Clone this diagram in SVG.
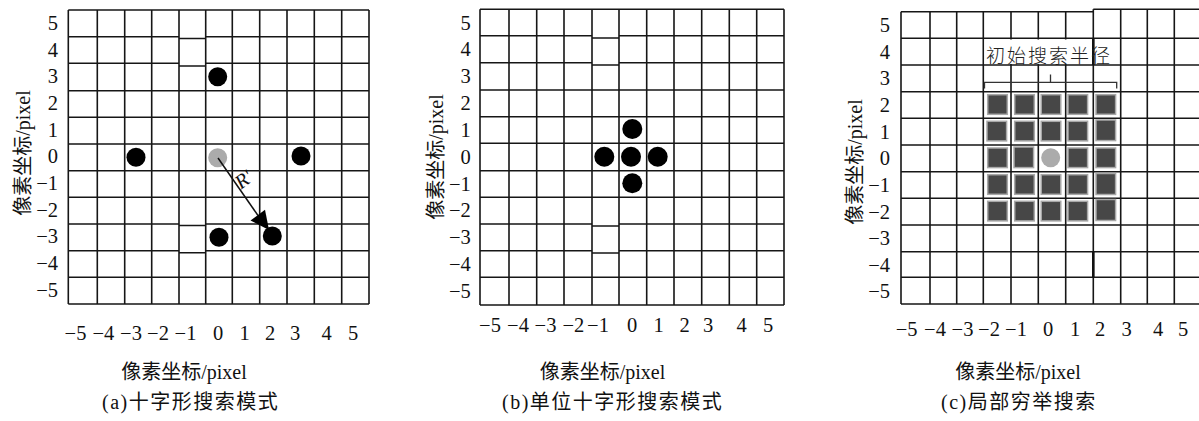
<svg xmlns="http://www.w3.org/2000/svg" width="1199" height="421" viewBox="0 0 1199 421">
<defs>
<style>
.g{fill:none;stroke:#161616;stroke-width:1.6}
.t{font-family:'Liberation Serif','Times New Roman',serif;font-size:20.5px;fill:#111}
.tm{text-anchor:middle}
.te{text-anchor:end}
.ax{font-family:'Liberation Serif','Noto Sans CJK SC',serif;font-size:20px;fill:#111;text-anchor:middle}
.cap{font-family:'Liberation Serif','Noto Sans CJK SC',serif;font-size:20px;fill:#111;letter-spacing:1.5px}
.blk{fill:#000}
.gry{fill:#ababab}
.sq{fill:#474747;stroke:#a8a8a8;stroke-width:1.5}
</style>
</defs>
<rect width="1199" height="421" fill="#fff"/>

<!-- Panel (a) -->
<g id="panel-a">
<path class="g" d="M68.3,10V304M97.3,10V304M124.7,10V304M151.7,10V304M179,10V304M205.7,10V304M232.3,10V304M259.7,10V304M287,10V304M314.3,10V304M341.7,10V304M369,10V304
M68.3,10H369M68.3,36.7H179M179,38.5H205.7M205.7,36.7H369M68.3,63.3H179M179,66H205.7M205.7,63.3H369M68.3,90.7H369M68.3,117.3H369M68.3,144H369M68.3,170.7H369M68.3,197.3H369
M68.3,224H179M179,225.5H205.7M205.7,224H369M68.3,250.7H179M179,252.7H205.7M205.7,250.7H369M68.3,277.3H369M68.3,304H369"/>
<g class="t te" font-family="Liberation Serif, serif">
<text x="58" y="30">5</text><text x="58" y="56.7">4</text><text x="58" y="83.3">3</text><text x="58" y="110">2</text><text x="58" y="136.7">1</text><text x="58" y="163.3">0</text>
<text x="58" y="190">−1</text><text x="58" y="216.7">−2</text><text x="58" y="243.3">−3</text><text x="58" y="270">−4</text><text x="58" y="296.7">−5</text>
</g>
<g class="t tm" font-family="Liberation Serif, serif">
<text x="75.5" y="340">−5</text><text x="103.3" y="340">−4</text><text x="131" y="340">−3</text><text x="158" y="340">−2</text><text x="185.5" y="340">−1</text><text x="218" y="340">0</text><text x="244.5" y="340">1</text><text x="270" y="340">2</text><text x="295" y="340">3</text><text x="326.7" y="340">4</text><text x="353" y="340">5</text>
</g>
<text class="ax" transform="translate(29.5,153) rotate(-90)">像素坐标/pixel</text>
<text class="ax" x="184" y="379">像素坐标/pixel</text>
<text class="cap" x="102" y="409">(a)十字形搜索模式</text>
</g>
<g id="nodes-a">
<circle class="blk" cx="217.7" cy="76.7" r="9.5"/>
<circle class="blk" cx="136" cy="157.3" r="9.5"/>
<circle class="blk" cx="301" cy="156" r="9.5"/>
<circle class="gry" cx="217.7" cy="157.7" r="9.5"/>
<circle class="blk" cx="219" cy="237.3" r="9.5"/>
<circle class="blk" cx="272.3" cy="236" r="9.5"/>
</g>
<g id="connectors">
<line x1="218" y1="158" x2="258" y2="215.5" stroke="#111" stroke-width="1.5"/>
<polygon points="250.5,220.5 265,209.7 269,230" fill="#000"/>
<text x="244" y="186" transform="rotate(-37 244 180)" font-family="Liberation Serif, serif" font-size="20" font-style="italic" fill="#111" text-anchor="middle">R'</text>
</g>

<!-- Panel (b) -->
<g id="panel-b">
<path class="g" d="M480,9.3V305M509,9.3V305M536.7,9.3V305M564,9.3V305M592,9.3V305M619,9.3V305M646.7,9.3V305M674,9.3V305M701.7,9.3V305M729.3,9.3V305M756.7,9.3V305M784,9.3V305
M480,9.3H784M480,35.7H592M592,38H619M619,35.7H784M480,62.7H592M592,65H619M619,62.7H784M480,90H784M480,116.7H784M480,143.3H784M480,170.7H784M480,197.3H784
M480,224H592M592,226H619M619,224H784M480,250.7H592M592,253H619M619,250.7H784M480,277.3H784M480,305H784"/>
<g class="t te" font-family="Liberation Serif, serif">
<text x="470.7" y="29.5">5</text><text x="470.7" y="56">4</text><text x="470.7" y="83">3</text><text x="470.7" y="110">2</text><text x="470.7" y="137">1</text><text x="470.7" y="163.5">0</text>
<text x="470.7" y="190.5">−1</text><text x="470.7" y="217">−2</text><text x="470.7" y="244">−3</text><text x="470.7" y="270.5">−4</text><text x="470.7" y="297.5">−5</text>
</g>
<g class="t tm" font-family="Liberation Serif, serif">
<text x="490" y="332">−5</text><text x="518" y="332">−4</text><text x="545.5" y="332">−3</text><text x="573.3" y="332">−2</text><text x="598" y="332">−1</text><text x="632" y="332">0</text><text x="658.5" y="332">1</text><text x="684.7" y="332">2</text><text x="708" y="332">3</text><text x="741.7" y="332">4</text><text x="768" y="332">5</text>
</g>
<text class="ax" transform="translate(442.5,157) rotate(-90)">像素坐标/pixel</text>
<text class="ax" x="602.5" y="379">像素坐标/pixel</text>
<text class="cap" x="502" y="409">(b)单位十字形搜索模式</text>
</g>
<g id="nodes-b">
<circle class="blk" cx="632.3" cy="129" r="10"/>
<circle class="blk" cx="604.3" cy="156.7" r="10"/>
<circle class="blk" cx="631" cy="156.7" r="10"/>
<circle class="blk" cx="657.7" cy="156.7" r="10"/>
<circle class="blk" cx="632.3" cy="183.3" r="10"/>
</g>

<!-- Panel (c) -->
<g id="panel-c">
<path class="g" d="M901,11.7V304M930,11.7V304M956.7,11.7V304M983.3,11.7V304M1011,11.7V304M1038.3,11.7V304M1065.7,11.7V304M1093.3,9.3V304M1120.7,9.3V304M1147.3,9.3V304M1174.3,9.3V304
M901,11.7H1093.3M1093.3,9.3H1199M901,38.3H1199M901,65H1199M901,91.7H1199M901,118.3H1199M901,145H1199M901,171.7H1199M901,198.3H1199M901,225H1199M901,251.7H1199M901,277.3H1199M901,304H1199"/>
<path d="M1093.3,251.7V277.3" stroke="#111" stroke-width="2.6"/>
<g class="t te" font-family="Liberation Serif, serif">
<text x="890" y="32">5</text><text x="890" y="58.5">4</text><text x="890" y="85">3</text><text x="890" y="112">2</text><text x="890" y="138.5">1</text><text x="890" y="165">0</text>
<text x="890" y="192">−1</text><text x="890" y="218.5">−2</text><text x="890" y="245">−3</text><text x="890" y="272">−4</text><text x="890" y="298">−5</text>
</g>
<g class="t tm" font-family="Liberation Serif, serif">
<text x="906.7" y="336">−5</text><text x="935" y="336">−4</text><text x="962.5" y="336">−3</text><text x="989" y="336">−2</text><text x="1016" y="336">−1</text><text x="1048" y="336">0</text><text x="1075" y="336">1</text><text x="1100" y="336">2</text><text x="1126.7" y="336">3</text><text x="1158" y="336">4</text><text x="1183" y="336">5</text>
</g>
<text class="ax" transform="translate(862,162) rotate(-90)">像素坐标/pixel</text>
<text class="ax" x="1018" y="379">像素坐标/pixel</text>
<text class="cap" x="941" y="409">(c)局部穷举搜索</text>
</g>
<g id="search-area-c">
<rect x="984.5" y="39.5" width="107.8" height="24.5" fill="#fff"/>
<path d="M1093.3,38.5V65" stroke="#111" stroke-width="2.6"/>
<text x="1049" y="63" font-family="Noto Sans CJK SC, sans-serif" font-size="19" font-weight="300" fill="#222" text-anchor="middle" letter-spacing="2">初始搜索半径</text>
<path d="M984.5,88.5V82.3H1116.7V88.5M1050.5,82.3V74.5" fill="none" stroke="#333" stroke-width="1.3"/>
<rect class="sq" x="987.7" y="94.7" width="19.6" height="19.6"/>
<rect class="sq" x="1014.7" y="94.7" width="19.6" height="19.6"/>
<rect class="sq" x="1041.2" y="94.7" width="19.6" height="19.6"/>
<rect class="sq" x="1068" y="94.7" width="19.6" height="19.6"/>
<rect class="sq" x="1096" y="94.7" width="19.6" height="19.6"/>
<rect class="sq" x="987" y="121.3" width="19.6" height="19.6"/>
<rect class="sq" x="1014.7" y="121.3" width="19.6" height="19.6"/>
<rect class="sq" x="1041.2" y="121.3" width="19.6" height="19.6"/>
<rect class="sq" x="1068" y="121.3" width="19.6" height="19.6"/>
<rect class="sq" x="1096" y="120" width="19.6" height="20.6"/>
<rect class="sq" x="987.7" y="148" width="19.6" height="19.6"/>
<rect class="sq" x="1014" y="147" width="19.6" height="20.6"/>
<circle class="gry" cx="1050.7" cy="157.7" r="9.5"/>
<rect class="sq" x="1068" y="148" width="19.6" height="19.6"/>
<rect class="sq" x="1096" y="148" width="19.6" height="19.6"/>
<rect class="sq" x="987.7" y="174.7" width="19.6" height="19.6"/>
<rect class="sq" x="1014.7" y="174.7" width="19.6" height="19.6"/>
<rect class="sq" x="1041.2" y="174.7" width="19.6" height="19.6"/>
<rect class="sq" x="1068" y="174.7" width="19.6" height="19.6"/>
<rect class="sq" x="1096" y="173.5" width="19.6" height="21"/>
<rect class="sq" x="987.7" y="201.3" width="19.6" height="19.6"/>
<rect class="sq" x="1014.7" y="201.3" width="19.6" height="19.6"/>
<rect class="sq" x="1041.2" y="201.3" width="19.6" height="19.6"/>
<rect class="sq" x="1068" y="201.3" width="19.6" height="19.6"/>
<rect class="sq" x="1096" y="199.5" width="19.6" height="21"/>
</g>
</svg>
